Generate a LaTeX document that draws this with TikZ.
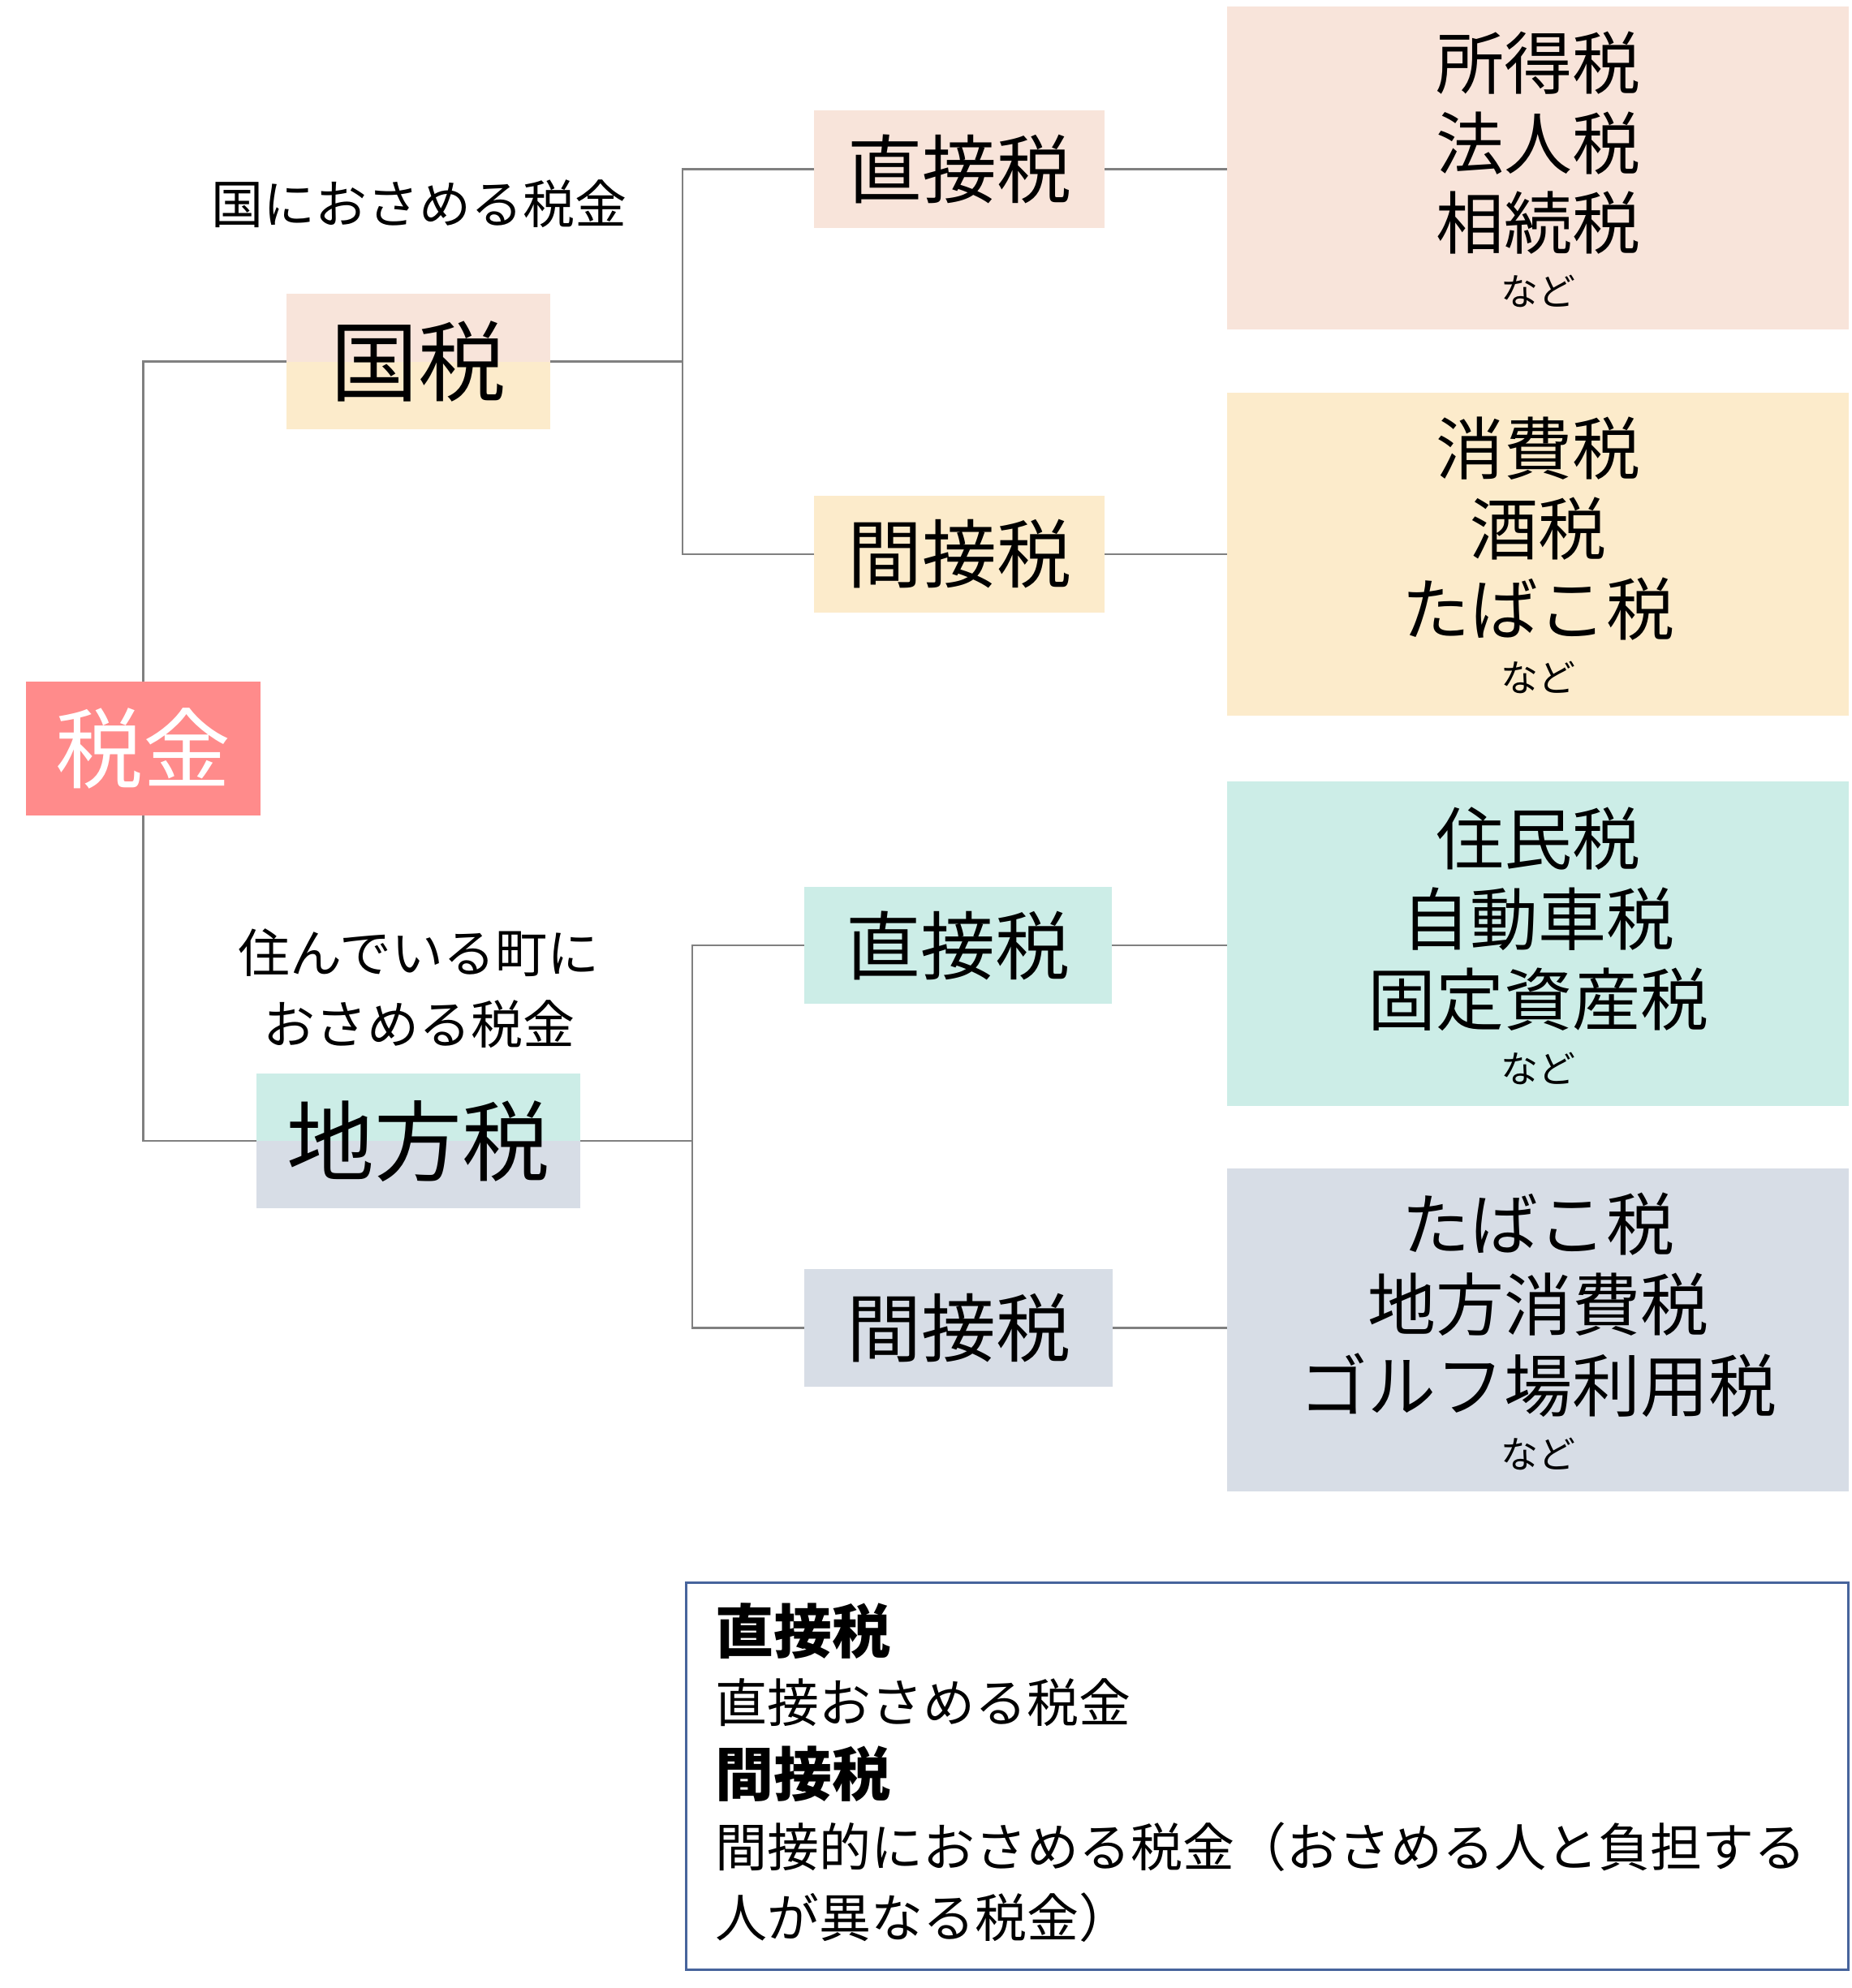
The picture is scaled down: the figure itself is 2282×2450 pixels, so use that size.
\documentclass[tikz,border=0pt]{standalone}
\usepackage{fontspec}
\setmainfont{Noto Sans CJK JP}
\definecolor{salmon}{HTML}{FF8B8B}
\definecolor{peach}{HTML}{F8E4DA}
\definecolor{cream}{HTML}{FCEBCB}
\definecolor{mint}{HTML}{CCEDE7}
\definecolor{bluegray}{HTML}{D7DDE6}
\definecolor{conngray}{HTML}{808080}
\definecolor{legendblue}{HTML}{47649C}
\newcommand{\fsz}[1]{\fontsize{#1}{#1}\selectfont}
\tikzset{
  box/.style={rectangle, inner sep=0pt, outer sep=0pt, draw=none},
  txt/.style={inner sep=0pt, outer sep=0pt, anchor=center},
  conn/.style={draw=conngray, line width=2.2pt},
  toptext/.style={txt, font=\fsz{108}},
  midtext/.style={txt, font=\fsz{92}},
  itemtext/.style={txt, font=\fsz{84}},
  nadotext/.style={txt, font=\fsz{46}},
  labeltext/.style={txt, font=\fsz{64}},
  legtext/.style={inner sep=0pt, outer sep=0pt, anchor=west, font=\fsz{64}},
  legbold/.style={legtext, font=\fsz{72}\bfseries},
  splitfill/.style 2 args={path picture={
    \fill[#1] (path picture bounding box.north west) rectangle (path picture bounding box.east);
    \fill[#2] (path picture bounding box.west) rectangle (path picture bounding box.south east);}},
}
\begin{document}
\begin{tikzpicture}[x=1pt,y=-1pt]
\fill[white] (0,0) rectangle (2282,2450);
\useasboundingbox (0,0) rectangle (2282,2450);

% level 0
\node[box, fill=salmon, minimum width=289pt, minimum height=165pt] (zeikin) at (176.5,922.5) {};
\node[toptext, text=white] (zeikinT) at (zeikin.center) {税金};

% level 1
\node[box, splitfill={peach}{cream}, minimum width=325pt, minimum height=167pt] (kokuzei) at (515.5,445.5) {};
\node[toptext] (kokuzeiT) at (kokuzei.center) {国税};
\node[box, splitfill={mint}{bluegray}, minimum width=399pt, minimum height=166pt] (chihou) at (515.5,1406) {};
\node[toptext] (chihouT) at (chihou.center) {地方税};

\node[labeltext] (lab1) at (516,251) {国におさめる税金};
\node[labeltext] (lab2a) at (516,1174) {住んでいる町に};
\node[labeltext] (lab2b) at (516,1262) {おさめる税金};

% level 2
\node[box, fill=peach, minimum width=358pt, minimum height=145pt] (kdir) at (1182,208.5) {};
\node[midtext] (kdirT) at (kdir.center) {直接税};
\node[box, fill=cream, minimum width=358pt, minimum height=144pt] (kind) at (1182,683) {};
\node[midtext] (kindT) at (kind.center) {間接税};
\node[box, fill=mint, minimum width=379pt, minimum height=144pt] (cdir) at (1180.5,1165) {};
\node[midtext] (cdirT) at (cdir.center) {直接税};
\node[box, fill=bluegray, minimum width=380pt, minimum height=145pt] (cind) at (1181,1636.5) {};
\node[midtext] (cindT) at (cind.center) {間接税};

% level 3
\node[box, fill=peach, minimum width=766pt, minimum height=398pt] (r1) at (1895,207) {};
\node[itemtext] (r1a) at (1895,78) {所得税};
\node[itemtext] (r1b) at (1895,177) {法人税};
\node[itemtext] (r1c) at (1895,275) {相続税};
\node[nadotext] (r1d) at (1895,359) {など};

\node[box, fill=cream, minimum width=766pt, minimum height=398pt] (r2) at (1895,683) {};
\node[itemtext] (r2a) at (1895,553) {消費税};
\node[itemtext] (r2b) at (1895,652) {酒税};
\node[itemtext] (r2c) at (1895,751) {たばこ税};
\node[nadotext] (r2d) at (1895,835) {など};

\node[box, fill=mint, minimum width=766pt, minimum height=400pt] (r3) at (1895,1163) {};
\node[itemtext] (r3a) at (1895,1034) {住民税};
\node[itemtext] (r3b) at (1895,1133) {自動車税};
\node[itemtext] (r3c) at (1895,1232) {固定資産税};
\node[nadotext] (r3d) at (1895,1317) {など};

\node[box, fill=bluegray, minimum width=766pt, minimum height=398pt] (r4) at (1895,1639) {};
\node[itemtext] (r4a) at (1895,1509) {たばこ税};
\node[itemtext] (r4b) at (1895,1608) {地方消費税};
\node[itemtext] (r4c) at (1895,1707) {ゴルフ場利用税};
\node[nadotext] (r4d) at (1895,1792) {など};

% connectors
\coordinate (kj) at (841,445.5);
\coordinate (cj) at (853,1406);
\draw[conn] (zeikin.north) |- (kokuzei.west);
\draw[conn] (zeikin.south) |- (chihou.west);
\draw[conn] (kokuzei.east) -- (kj);
\draw[conn] (kdir.west) -| (kj);
\draw[conn] (kind.west) -| (kj);
\draw[conn] (chihou.east) -- (cj);
\draw[conn] (cdir.west) -| (cj);
\draw[conn] (cind.west) -| (cj);
\draw[conn] (kdir.east) -- (kdir.east -| r1.west);
\draw[conn] (kind.east) -- (kind.east -| r2.west);
\draw[conn] (cdir.east) -- (cdir.east -| r3.west);
\draw[conn] (cind.east) -- (cind.east -| r4.west);

% legend
\node[box, draw=legendblue, line width=3pt, fill=white, minimum width=1432pt, minimum height=477pt] (legend) at (1561.5,2188.5) {};
\node[legbold] (lg1) at (881,2010) {直接税};
\node[legtext] (lg2) at (881,2098) {直接おさめる税金};
\node[legbold] (lg3) at (881,2186) {間接税};
\node[legtext] (lg4) at (881,2276) {間接的におさめる税金（おさめる人と負担する};
\node[legtext] (lg5) at (881,2363) {人が異なる税金）};
\end{tikzpicture}
\end{document}
